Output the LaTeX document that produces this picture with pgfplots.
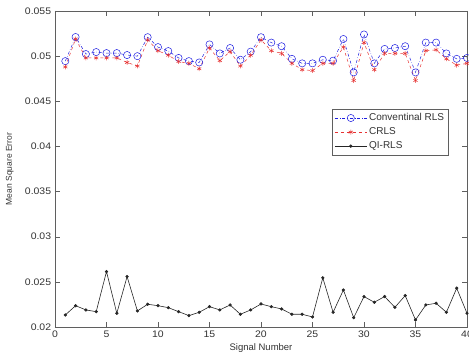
\documentclass[border=0pt]{standalone}
\usepackage{fontspec}
\setmainfont{Liberation Sans}
\usepackage{pgfplots}
\pgfplotsset{compat=1.18}
\definecolor{mblue}{RGB}{30,30,225}
\definecolor{mred}{RGB}{230,50,50}
\definecolor{axgray}{RGB}{95,95,95}
\begin{document}
\begin{tikzpicture}
\begin{axis}[
  scale only axis, width=412pt, height=316pt,
  xmin=0, xmax=40, ymin=0.02, ymax=0.055,
  xtick={0,5,...,40},
  ytick={0.02,0.025,0.03,0.035,0.04,0.045,0.05,0.055},
  yticklabels={0.02,0.025,0.03,0.035,0.04,0.045,0.05,0.055},
  scaled y ticks=false, scaled x ticks=false,
  tick align=inside, major tick length=5pt,
  axis line style={axgray},
  every tick/.style={axgray},
  font=\fontsize{9.5}{11}\selectfont,
  every tick label/.append style={black!80, xscale=1.1},
  /pgf/number format/assume math mode=true,
  xlabel={Signal Number}, ylabel={Mean Square Error},
  xlabel style={at={(axis description cs:0.5,0)}, anchor=center, yshift=-21pt, black!80},
  ylabel style={at={(axis description cs:-0.11,0.5)}, anchor=center, black!80, font=\fontsize{8.5}{10}\selectfont},
  legend style={at={(0.956,0.69)}, anchor=north east, draw=axgray, font=\fontsize{10}{12}\selectfont, row sep=1.5pt, inner sep=2.5pt, text=black!80},
  legend cell align=left,
  legend image code/.code={\draw[mark repeat=2,mark phase=2] plot coordinates {(0pt,0pt) (16pt,0pt) (32pt,0pt)};},
  clip marker paths=false,
]
\addplot[mblue, dashdotted, line width=0.5pt, mark=o, mark size=3.6pt, mark options={solid}] coordinates {
(1,0.04945)(2,0.05212)(3,0.05023)(4,0.05045)(5,0.05034)(6,0.05034)(7,0.05012)(8,0.0500)(9,0.0521)(10,0.0510)
(11,0.05056)(12,0.0498)(13,0.04945)(14,0.0493)(15,0.0513)(16,0.0503)(17,0.0509)(18,0.0496)(19,0.0505)(20,0.0521)
(21,0.0515)(22,0.0511)(23,0.0497)(24,0.0492)(25,0.0492)(26,0.0496)(27,0.0495)(28,0.0519)(29,0.0482)(30,0.0524)
(31,0.0492)(32,0.0508)(33,0.0509)(34,0.0511)(35,0.0482)(36,0.0515)(37,0.0515)(38,0.0503)(39,0.0497)(40,0.0498)
};
\addlegendentry{Conventinal RLS}
\addplot[mred, dashed, line width=0.5pt, mark=asterisk, mark size=2.4pt, mark options={solid}] coordinates {
(1,0.0488)(2,0.0519)(3,0.0498)(4,0.0498)(5,0.0498)(6,0.0498)(7,0.0493)(8,0.0489)(9,0.0518)(10,0.0506)
(11,0.0501)(12,0.0494)(13,0.0492)(14,0.0486)(15,0.0509)(16,0.0495)(17,0.0505)(18,0.0489)(19,0.0501)(20,0.0518)
(21,0.0506)(22,0.0503)(23,0.0492)(24,0.0485)(25,0.0484)(26,0.0492)(27,0.0492)(28,0.0510)(29,0.0473)(30,0.0515)
(31,0.0485)(32,0.0503)(33,0.0503)(34,0.0503)(35,0.0473)(36,0.0506)(37,0.0507)(38,0.0497)(39,0.0490)(40,0.0492)
};
\addlegendentry{CRLS}
\addplot[black!85, solid, line width=0.6pt, mark=*, mark size=1.3pt] coordinates {
(1,0.02133)(2,0.02236)(3,0.02189)(4,0.0217)(5,0.02614)(6,0.02152)(7,0.02558)(8,0.02178)(9,0.02252)(10,0.02236)
(11,0.02214)(12,0.0217)(13,0.02126)(14,0.02163)(15,0.02225)(16,0.02189)(17,0.02244)(18,0.02141)(19,0.02189)(20,0.02255)
(21,0.02225)(22,0.0220)(23,0.02141)(24,0.02141)(25,0.02111)(26,0.02545)(27,0.02163)(28,0.0241)(29,0.02103)(30,0.02337)
(31,0.02274)(32,0.02337)(33,0.02218)(34,0.02348)(35,0.02078)(36,0.02244)(37,0.02263)(38,0.02163)(39,0.0243)(40,0.02152)
};
\addlegendentry{QI-RLS}
\coordinate (sw) at (rel axis cs:0,0);
\coordinate (ne) at (rel axis cs:1,1);
\end{axis}
\pgfresetboundingbox
\path[use as bounding box] ([shift={(-55pt,-31pt)}]sw) rectangle ([shift={(2pt,11pt)}]ne);
\end{tikzpicture}
\end{document}
